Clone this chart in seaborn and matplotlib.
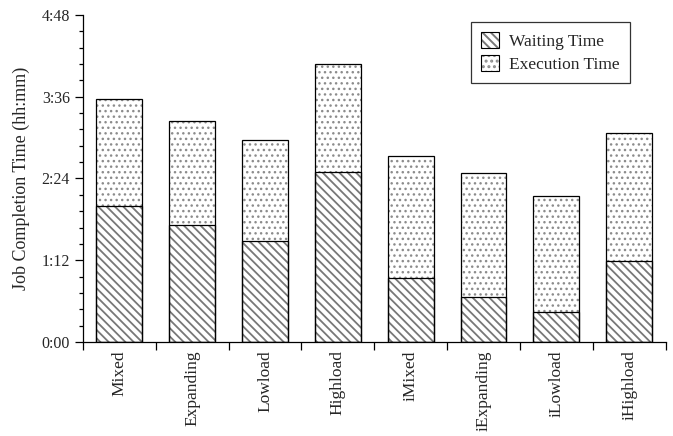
import matplotlib
matplotlib.use("Agg")
import matplotlib.pyplot as plt
import matplotlib.ticker as mticker
from matplotlib.patches import Patch
import numpy as np
import pandas as pd
import seaborn as sns

# Workloads and their job completion times, in minutes
categories = ["Mixed", "Expanding", "Lowload", "Highload",
              "iMixed", "iExpanding", "iLowload", "iHighload"]
waiting_min = [120, 103, 89, 150, 56, 40, 26, 71]
execution_min = [94, 92, 89, 95, 108, 109, 103, 113]

y_ticks_min = [0, 72, 144, 216, 288]

sns.set_theme(style="ticks")
plt.rcParams["font.family"] = ["Liberation Serif", "DejaVu Serif"]
plt.rcParams["hatch.linewidth"] = 1.4

df = pd.DataFrame({
    "workload": categories,
    "waiting": waiting_min,
    "execution": execution_min,
})
df["total"] = df["waiting"] + df["execution"]

fig = plt.figure(figsize=(6.73, 4.36), dpi=100)
ax = fig.add_axes([0.1233, 0.2156, 0.8657, 0.75])

BAR_W = 0.63
STRIPE = "\\" * 4
DOTS = "..."
STRIPE_COL = "#787878"
DOT_COL = "#8c8c8c"
STRIPE_LW = 1.3
DOT_LW = 1.0


def set_hatch_lw(patches, lw):
    for p in patches:
        if hasattr(p, "set_hatch_linewidth"):
            p.set_hatch_linewidth(lw)


# Execution part: full stacked height, dotted
sns.barplot(data=df, x="workload", y="total", color="white", width=BAR_W,
            edgecolor=DOT_COL, hatch=DOTS, linewidth=0, ax=ax)
n_exec = len(ax.patches)
set_hatch_lw(ax.patches[:n_exec], DOT_LW)

# Waiting part: bottom segment, diagonal stripes
sns.barplot(data=df, x="workload", y="waiting", color="white", width=BAR_W,
            edgecolor=STRIPE_COL, hatch=STRIPE, linewidth=0, ax=ax)
set_hatch_lw(ax.patches[n_exec:], STRIPE_LW)

# Black outlines for both segments
sns.barplot(data=df, x="workload", y="total", fill=False, color="black",
            width=BAR_W, linewidth=0.9, ax=ax)
sns.barplot(data=df, x="workload", y="waiting", fill=False, color="black",
            width=BAR_W, linewidth=0.9, ax=ax)

n = len(categories)
ax.set_xlim(-0.5, n - 0.5)
ax.set_ylim(0, 288)

# x axis: tick marks at category boundaries, labels at centres
ax.set_xticks(np.arange(-0.5, n, 1.0))
ax.set_xticklabels([])
ax.set_xticks(np.arange(n), minor=True)
ax.set_xticklabels(categories, minor=True, rotation=90, fontsize=12.5)
ax.tick_params(axis="x", which="major", direction="out", length=6, width=0.9, color="black")
ax.tick_params(axis="x", which="minor", length=0, pad=6)

# y axis in hh:mm
ax.set_yticks(y_ticks_min)
ax.yaxis.set_major_formatter(mticker.FuncFormatter(lambda v, _: f"{int(v) // 60}:{int(v) % 60:02d}"))
ax.yaxis.set_minor_locator(mticker.MultipleLocator(14.4))
ax.tick_params(axis="y", which="major", direction="out", length=6, width=0.9, labelsize=11.5, color="black")
ax.tick_params(axis="y", which="minor", direction="out", length=3, width=0.9, color="black")
ax.set_ylabel("Job Completion Time (hh:mm)", fontsize=13, labelpad=8)
ax.set_xlabel("")

for side in ("top", "right"):
    ax.spines[side].set_visible(False)
for side in ("left", "bottom"):
    ax.spines[side].set_color("black")
    ax.spines[side].set_linewidth(0.9)

# Legend with hatched swatches
w_fill = Patch(facecolor="white", edgecolor=STRIPE_COL, hatch=STRIPE, linewidth=0)
e_fill = Patch(facecolor="white", edgecolor=DOT_COL, hatch=DOTS, linewidth=0)
set_hatch_lw([w_fill], STRIPE_LW)
set_hatch_lw([e_fill], DOT_LW)
h_wait = (w_fill, Patch(facecolor="none", edgecolor="black", linewidth=0.8))
h_exec = (e_fill, Patch(facecolor="none", edgecolor="black", linewidth=0.8))
leg = ax.legend([h_wait, h_exec], ["Waiting Time", "Execution Time"],
                loc="upper right", bbox_to_anchor=(630 / 673, 1 - 22 / 436),
                bbox_transform=fig.transFigure, borderaxespad=0,
                fontsize=12.5, frameon=True, fancybox=False,
                edgecolor="black", handlelength=1.0, handleheight=1.0,
                handletextpad=0.6, borderpad=0.6, labelspacing=0.3)
leg.get_frame().set_linewidth(0.9)

fig.savefig("out.png", dpi=100)
